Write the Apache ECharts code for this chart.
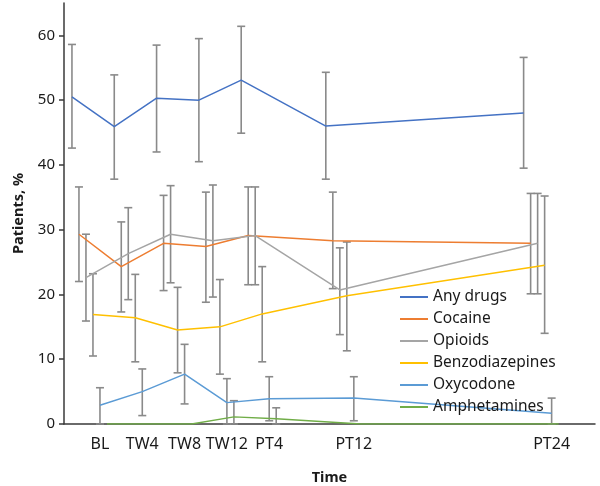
<!DOCTYPE html>
<html><head><meta charset="utf-8">
<script src="https://cdn.jsdelivr.net/npm/echarts@6/dist/echarts.min.js"></script>
<style>html,body{margin:0;padding:0;background:#fff}#c{width:600px;height:486px}</style>
</head><body><div id="c"></div><script>
// Time points and their position on the time scale (weeks)
const timepoints = ['BL', 'TW4', 'TW8', 'TW12', 'PT4', 'PT12', 'PT24'];
const weeks = [0, 4, 8, 12, 16, 24, 42.7];
const yTicks = [0, 10, 20, 30, 40, 50, 60];

const seriesNames = ['Any drugs', 'Cocaine', 'Opioids', 'Benzodiazepines', 'Oxycodone', 'Amphetamines'];

// Patients, % (point estimate, lower and upper CI)
const anyDrugs     = [50.5, 45.9, 50.3, 50.0, 53.1, 46.0, 48.0];
const anyDrugsLow  = [42.6, 37.8, 42.0, 40.5, 44.9, 37.8, 39.5];
const anyDrugsHigh = [58.6, 53.9, 58.5, 59.5, 61.4, 54.3, 56.6];

const cocaine     = [29.3, 24.3, 27.9, 27.4, 29.1, 28.3, 27.9];
const cocaineLow  = [22.0, 17.3, 20.6, 18.8, 21.5, 20.9, 20.1];
const cocaineHigh = [36.6, 31.2, 35.3, 35.8, 36.6, 35.8, 35.6];

const opioids     = [22.6, 26.3, 29.3, 28.3, 29.1, 20.7, 27.9];
const opioidsLow  = [15.9, 19.2, 21.8, 19.6, 21.5, 13.8, 20.1];
const opioidsHigh = [29.3, 33.4, 36.8, 36.9, 36.6, 27.2, 35.6];

const benzo     = [16.9, 16.4, 14.5, 15.0, 17.0, 19.8, 24.5];
const benzoLow  = [10.5, 9.6, 7.9, 7.7, 9.6, 11.3, 14.0];
const benzoHigh = [23.2, 23.1, 21.1, 22.3, 24.3, 28.1, 35.2];

const oxycodone     = [2.9, 5.0, 7.7, 3.3, 3.9, 4.0, 1.65];
const oxycodoneLow  = [0, 1.3, 3.1, 0, 0.5, 0.5, 0];
const oxycodoneHigh = [5.6, 8.5, 12.3, 7.0, 7.3, 7.3, 4.0];

const amphetamines     = [0, 0, 0, 1.1, 0.8, 0, 0];
const amphetaminesLow  = [0, 0, 0, 0, 0, 0, 0];
const amphetaminesHigh = [0, 0, 0, 3.6, 2.5, 0, 0];

const values = [anyDrugs, cocaine, opioids, benzo, oxycodone, amphetamines];
const lows   = [anyDrugsLow, cocaineLow, opioidsLow, benzoLow, oxycodoneLow, amphetaminesLow];
const highs  = [anyDrugsHigh, cocaineHigh, opioidsHigh, benzoHigh, oxycodoneHigh, amphetaminesHigh];

const colors = ['#4472C4', '#ED7D31', '#A5A5A5', '#FFC000', '#5B9BD5', '#70AD47'];
const dodge = 0.662; // horizontal offset between series (weeks)
const font = '"Noto Sans", sans-serif';

const series = [];
seriesNames.forEach((name, i) => {
  const off = (i - 4) * dodge;
  series.push({
    name, type: 'line', symbol: 'none', z: 3,
    lineStyle: { color: colors[i], width: 1.5 },
    itemStyle: { color: colors[i] },
    data: values[i].map((v, j) => [weeks[j] + off, v])
  });
  series.push({
    name: name + ' CI', type: 'custom', z: 2,
    encode: { x: 0, y: [1, 2] },
    data: lows[i].map((lo, j) => [weeks[j] + off, lo, highs[i][j]]),
    renderItem(params, api) {
      const x = api.value(0), lo = api.value(1), hi = api.value(2);
      if (hi - lo < 0.01) return null;
      const p1 = api.coord([x, lo]), p2 = api.coord([x, hi]);
      const w = 4, st = { stroke: '#8a8a8a', lineWidth: 1.6 };
      return { type: 'group', children: [
        { type: 'line', shape: { x1: p1[0], y1: p1[1], x2: p2[0], y2: p2[1] }, style: st },
        { type: 'line', shape: { x1: p1[0] - w, y1: p1[1], x2: p1[0] + w, y2: p1[1] }, style: st },
        { type: 'line', shape: { x1: p2[0] - w, y1: p2[1], x2: p2[0] + w, y2: p2[1] }, style: st }
      ]};
    }
  });
});

const chart = echarts.init(document.getElementById('c'), null, { renderer: 'canvas' });
chart.setOption({
  animation: false,
  backgroundColor: '#fff',
  grid: { left: 64, right: 5, top: 3, bottom: 62, containLabel: false, outerBoundsMode: 'none' },
  legend: {
    data: seriesNames, orient: 'vertical', left: 395, top: 284,
    icon: 'rect', itemWidth: 28, itemHeight: 2, itemGap: 6,
    textStyle: { fontFamily: font, fontSize: 15.5, color: '#1a1a1a', lineHeight: 14 },
    selectedMode: false
  },
  xAxis: {
    type: 'value', min: -3.4, max: 46.8,
    name: 'Time', nameLocation: 'middle', nameGap: 46,
    nameTextStyle: { fontFamily: font, fontSize: 14.5, fontWeight: 'bold', color: '#1a1a1a' },
    axisLine: { show: true, onZero: false, lineStyle: { color: '#3a3a3a', width: 1.5 } },
    axisTick: { show: false },
    splitLine: { show: false },
    axisLabel: {
      customValues: weeks, margin: 12,
      fontFamily: font, fontSize: 16, color: '#1a1a1a',
      formatter: (v) => {
        let k = 0, d = Infinity;
        weeks.forEach((w, j) => { if (Math.abs(w - v) < d) { d = Math.abs(w - v); k = j; } });
        return timepoints[k];
      }
    }
  },
  yAxis: {
    type: 'value', min: 0, max: 65,
    name: 'Patients, %', nameLocation: 'middle', nameGap: 38,
    nameTextStyle: { fontFamily: font, fontSize: 14.5, fontWeight: 'bold', color: '#1a1a1a' },
    axisLine: { show: true, onZero: false, lineStyle: { color: '#3a3a3a', width: 1.5 } },
    axisTick: { show: true, customValues: yTicks, length: 5, lineStyle: { color: '#3a3a3a', width: 1.5 } },
    splitLine: { show: false },
    axisLabel: { customValues: yTicks, margin: 9, fontFamily: font, fontSize: 15, color: '#1a1a1a' }
  },
  series
});
</script></body></html>
